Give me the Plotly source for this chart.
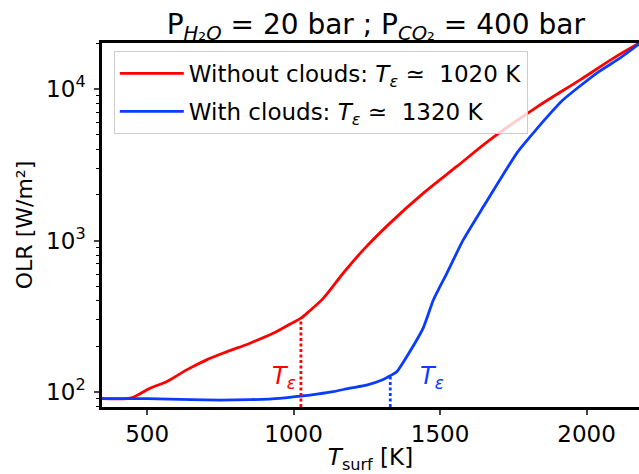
import math
import plotly.graph_objects as go

# ---- data ----
T_noclouds = [346, 430, 450, 470, 510, 566, 635, 703, 771, 851, 930, 987, 1025, 1056,
              1101, 1169, 1238, 1329, 1443, 1557, 1670, 1830, 1978, 2092, 2179]
OLR_noclouds = [90.5, 90.5, 92, 96, 106, 117, 140, 163, 184, 210, 244, 280, 307, 345,
                415, 608, 867, 1303, 2055, 3083, 4620, 7600, 11500, 16000, 20100]

T_clouds = [346, 500, 650, 750, 851, 953, 1022, 1056, 1135, 1192, 1249, 1306, 1330,
            1352, 1397, 1443, 1477, 1523, 1579, 1648, 1762, 1818, 1864, 1920,
            2035, 2114, 2179]
OLR_clouds = [90.5, 90.3, 89, 88.5, 89, 90.8, 94, 95.5, 100.5, 106, 111, 121, 128,
              136, 185, 266, 405, 608, 1009, 1675, 3777, 5120, 6500, 8490,
              12760, 16000, 19800]

T_eps_noclouds, OLR_eps_noclouds = 1025, 307
T_eps_clouds, OLR_eps_clouds = 1330, 128
label_noclouds = "Without clouds: <i>T</i><sub><i>ε</i></sub>\u00a0≃\u00a0\u00a01020 K"
label_clouds = "With clouds: <i>T</i><sub><i>ε</i></sub>\u00a0≃\u00a0\u00a01320 K"
teps_label_pos = [(967, 124), (1472, 124)]

x_range = [346, 2179]
y_range_log = [1.901, 4.304]
y_tickvals = [100, 1000, 10000]
y_ticktext = ["10<sup>2</sup>", "10<sup>3</sup>", "10<sup>4</sup>"]
y_minor = [80, 90, 200, 300, 400, 500, 600, 700, 800, 900,
           2000, 3000, 4000, 5000, 6000, 7000, 8000, 9000, 20000]
x_tickvals = [500, 1000, 1500, 2000]

RED = "#ff0000"
BLUE = "#0a3cff"
FONT = "DejaVu Sans"

fig = go.Figure()
fig.add_trace(go.Scatter(x=T_noclouds, y=OLR_noclouds, mode="lines",
                         line=dict(color=RED, width=2.8, shape="spline", smoothing=0.9),
                         name=label_noclouds, legendgroup="a"))
fig.add_trace(go.Scatter(x=T_clouds, y=OLR_clouds, mode="lines",
                         line=dict(color=BLUE, width=2.8, shape="spline", smoothing=0.5),
                         name=label_clouds, legendgroup="b"))

ymin = 10 ** y_range_log[0]
fig.add_trace(go.Scatter(x=[T_eps_noclouds, T_eps_noclouds], y=[ymin, OLR_eps_noclouds],
                         mode="lines", line=dict(color=RED, width=2.8, dash="3px,2.5px"),
                         showlegend=False))
fig.add_trace(go.Scatter(x=[T_eps_clouds, T_eps_clouds], y=[ymin, OLR_eps_clouds],
                         mode="lines", line=dict(color=BLUE, width=2.8, dash="3px,2.5px"),
                         showlegend=False))

for (xp, yp), col in zip(teps_label_pos, [RED, BLUE]):
    fig.add_annotation(x=xp, y=math.log10(yp), xref="x", yref="y",
                       text="<i>T</i><sub><i>ε</i></sub>", showarrow=False,
                       font=dict(family=FONT, size=24, color=col),
                       xanchor="center", yanchor="middle")

fig.update_layout(
    width=639, height=474,
    margin=dict(l=102, r=0, t=43, b=67),
    paper_bgcolor="white", plot_bgcolor="white",
    font=dict(family=FONT, size=23, color="black"),
    title=dict(text="P<sub><i>H</i>₂<i>O</i></sub> = 20 bar ; P<sub><i>CO</i>₂</sub> = 400 bar",
               x=0.51, xref="paper", xanchor="center",
               y=1 - 24 / 474, yref="container", yanchor="middle",
               font=dict(family=FONT, size=28, color="black")),
    showlegend=True,
    legend=dict(x=0.022, y=0.978, xanchor="left", yanchor="top",
                bgcolor="rgba(255,255,255,0.8)", bordercolor="#cccccc", borderwidth=1,
                font=dict(family=FONT, size=23), tracegroupgap=5, itemwidth=64),
    xaxis=dict(range=x_range, tickvals=x_tickvals, ticks="outside", ticklen=5,
               tickwidth=1.5, showline=True, linecolor="black", linewidth=2.5,
               mirror=True, showgrid=False, zeroline=False,
               tickfont=dict(family=FONT, size=23),
               title=dict(text="<i>T</i><sub>surf</sub> [K]", standoff=6,
                          font=dict(family=FONT, size=23))),
    yaxis=dict(type="log", range=y_range_log, tickvals=y_tickvals, ticktext=y_ticktext,
               ticks="outside", ticklen=5, tickwidth=1.5, showline=True,
               linecolor="black", linewidth=2.5, showgrid=False, zeroline=False,
               ticklabelstandoff=4, tickfont=dict(family=FONT, size=23),
               minor=dict(tickvals=y_minor, ticks="outside", ticklen=3, tickwidth=1,
                          tickcolor="black", showgrid=False),
               title=dict(text="OLR [W/m²]", standoff=8,
                          font=dict(family=FONT, size=22))),
)

fig.write_html("out.html")
